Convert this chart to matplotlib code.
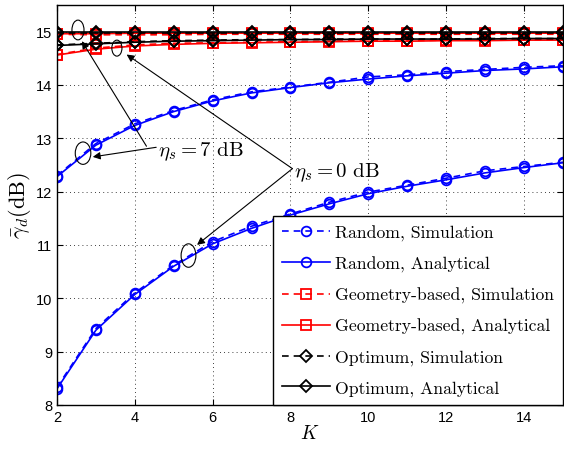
import numpy as np
import matplotlib
matplotlib.use('Agg')
import matplotlib.pyplot as plt
from matplotlib.patches import Ellipse

plt.rcParams['mathtext.fontset'] = 'cm'
plt.rcParams['axes.unicode_minus'] = False
plt.rcParams['font.family'] = ['Liberation Sans', 'DejaVu Sans']

K = np.arange(2, 16)

# eta_s = 7 dB
rand7_sim = [12.30, 12.90, 13.27, 13.52, 13.72, 13.87, 13.96, 14.05, 14.15, 14.19, 14.25, 14.29, 14.33, 14.36]
rand7_ana = [12.28, 12.87, 13.24, 13.50, 13.70, 13.85, 13.95, 14.04, 14.11, 14.17, 14.22, 14.27, 14.30, 14.34]
geo7_sim = [14.95, 14.94, 14.94, 14.94, 14.95, 14.95, 14.95, 14.95, 14.95, 14.95, 14.95, 14.95, 14.95, 14.95]
geo7_ana = [14.96, 14.96, 14.97, 14.97, 14.97, 14.97, 14.97, 14.97, 14.97, 14.97, 14.97, 14.97, 14.97, 14.97]
opt7_sim = [14.98, 14.98, 14.98, 14.98, 14.98, 14.98, 14.98, 14.98, 14.98, 14.98, 14.98, 14.98, 14.98, 14.98]
opt7_ana = [14.99, 14.99, 14.99, 14.99, 14.99, 14.99, 14.99, 14.99, 14.99, 14.99, 14.99, 14.99, 14.99, 14.99]

# eta_s = 0 dB
rand0_sim = [8.33, 9.43, 10.10, 10.62, 11.06, 11.35, 11.58, 11.80, 11.99, 12.12, 12.25, 12.39, 12.47, 12.55]
rand0_ana = [8.30, 9.40, 10.07, 10.60, 11.02, 11.31, 11.56, 11.77, 11.96, 12.10, 12.22, 12.35, 12.45, 12.54]
geo0_sim = [14.57, 14.69, 14.75, 14.78, 14.79, 14.80, 14.81, 14.82, 14.83, 14.83, 14.84, 14.84, 14.84, 14.85]
geo0_ana = [14.56, 14.67, 14.73, 14.76, 14.78, 14.79, 14.80, 14.81, 14.82, 14.82, 14.83, 14.83, 14.84, 14.84]
opt0_sim = [14.75, 14.78, 14.81, 14.83, 14.84, 14.85, 14.85, 14.86, 14.86, 14.86, 14.86, 14.87, 14.87, 14.87]
opt0_ana = [14.74, 14.77, 14.80, 14.82, 14.83, 14.84, 14.85, 14.85, 14.86, 14.86, 14.86, 14.86, 14.87, 14.87]

labels = ['Random, Simulation', 'Random, Analytical',
          'Geometry-based, Simulation', 'Geometry-based, Analytical',
          'Optimum, Simulation', 'Optimum, Analytical']

dash = (0, (4, 3))
lw = 1.2

fig = plt.figure(figsize=(5.64, 4.56), dpi=100)
ax = fig.add_axes([0.101, 0.11, 0.897, 0.877])

series = [
    (rand0_sim, rand7_sim, 'b', 'o', dash, 7, labels[0]),
    (rand0_ana, rand7_ana, 'b', 'o', '-', 7, labels[1]),
    (geo0_sim, geo7_sim, 'r', 's', dash, 6.5, labels[2]),
    (geo0_ana, geo7_ana, 'r', 's', '-', 6.5, labels[3]),
    (opt0_sim, opt7_sim, 'k', 'D', dash, 6, labels[4]),
    (opt0_ana, opt7_ana, 'k', 'D', '-', 6, labels[5]),
]
for y0, y7, c, m, ls, ms, lab in series:
    ax.plot(K, y0, color=c, marker=m, linestyle=ls, lw=lw, ms=ms,
            mfc='none', mec=c, mew=1.3, label=lab)
    ax.plot(K, y7, color=c, marker=m, linestyle=ls, lw=lw, ms=ms,
            mfc='none', mec=c, mew=1.3)

ax.set_xlim(2, 15)
ax.set_ylim(8, 15.5)
ax.set_xticks(np.arange(2, 15, 2))
ax.set_yticks(np.arange(8, 16))
ax.tick_params(direction='in', top=True, right=True, labelsize=10.5, length=4)
ax.grid(True, linestyle=(0, (1, 4)), color='k', linewidth=0.6)
ax.set_xlabel('$K$', fontsize=14, labelpad=0)
ax.set_ylabel(r'$\bar{\gamma}_d\mathrm{(dB)}$', fontsize=16, labelpad=2)
for s in ax.spines.values():
    s.set_linewidth(1.0)

# ellipses marking curve groups
for cx, cy, w, h in [(2.54, 15.03, 0.31, 0.37), (3.54, 14.69, 0.26, 0.30),
                     (2.67, 12.72, 0.40, 0.42), (5.38, 10.80, 0.38, 0.44)]:
    ax.add_patch(Ellipse((cx, cy), w, h, fill=False, ec='k', lw=0.8, zorder=5))

arrow = dict(arrowstyle='-|>', color='k', lw=0.8, mutation_scale=11, shrinkA=0, shrinkB=0)
ax.text(4.6, 12.76, r'$\eta_s = 7\ \mathrm{dB}$', fontsize=15, va='center', ha='left')
ax.annotate('', xy=(2.64, 14.82), xytext=(4.3, 12.85), arrowprops=arrow)
ax.annotate('', xy=(2.92, 12.65), xytext=(4.55, 12.83), arrowprops=arrow)
ax.text(8.08, 12.37, r'$\eta_s = 0\ \mathrm{dB}$', fontsize=15, va='center', ha='left')
ax.annotate('', xy=(3.79, 14.57), xytext=(8.05, 12.43), arrowprops=arrow)
ax.annotate('', xy=(5.6, 11.0), xytext=(8.05, 12.43), arrowprops=arrow)

leg = ax.legend(loc='lower right', prop={'family': 'cmr10', 'size': 12.7},
                handlelength=2.7, handletextpad=0.3, labelspacing=0.85,
                borderaxespad=0.0, fancybox=False, framealpha=1,
                edgecolor='k', borderpad=0.5)
leg.get_frame().set_linewidth(1.0)

fig.savefig('out.png', dpi=100)
